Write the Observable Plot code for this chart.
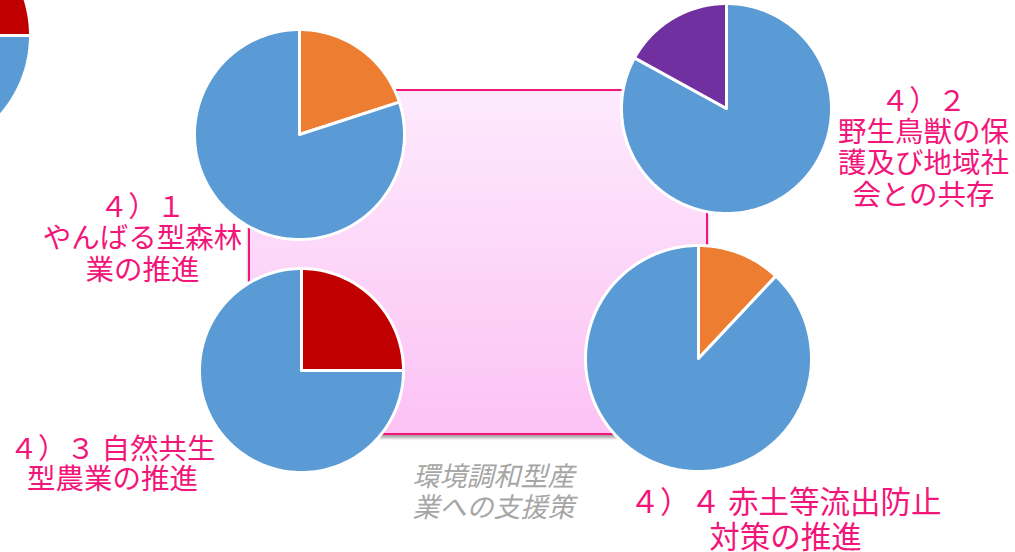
<!DOCTYPE html>
<html>
<head>
<meta charset="utf-8">
<script src="https://cdn.jsdelivr.net/npm/d3@7"></script>
<script src="https://cdn.jsdelivr.net/npm/@observablehq/plot@0.6"></script>
<style>
  html, body { margin: 0; padding: 0; background: #ffffff; overflow: hidden; }
  #chart svg { display: block; }
</style>
</head>
<body>
<div id="chart"></div>
<script>
// ---------- data ----------
const pieIds = ["４）１", "４）２", "４）３", "４）４", "前項"];
const highlightShare = [0.20, 0.17, 0.25, 0.12, 0.25];
const restShare = [0.80, 0.83, 0.75, 0.88, 0.75];
const highlightFirst = [true, false, true, true, true];

const labelTexts = [
  "４）１\nやんばる型森林\n業の推進",
  "４）２\n野生鳥獣の保\n護及び地域社\n会との共存",
  "４）３ 自然共生\n型農業の推進",
  "４）４ 赤土等流出防止\n対策の推進"
];
const centerCaption = "環境調和型産\n業への支援策";

// ---------- layout & style ----------
const W = 1015, H = 552;
const pieLayout = [
  {cx: 299, cy: 134, r: 105},
  {cx: 726, cy: 108, r: 105},
  {cx: 301, cy: 370, r: 102},
  {cx: 698, cy: 358, r: 113},
  {cx: -90, cy: 35, r: 120}
];
const highlightColors = ["#ed7d31", "#7030a0", "#c00000", "#ed7d31", "#c00000"];
const restColor = "#5b9bd5";
const labelLayout = [
  {x: 142, y: 238, size: 28.5, lh: 1.09},
  {x: 923, y: 147, size: 28.5, lh: 1.1},
  {x: 112, y: 464, size: 28.5, lh: 1.03},
  {x: 785, y: 519, size: 30.5, lh: 1.13}
];
const captionLayout = {x: 493, y: 491, size: 27, lh: 1.15};
const box = {x1: 249, x2: 707, y1: 90, y2: 434};
const pink = "#f2167a";

// ---------- slice geometry from shares ----------
const slicePoints = [];
pieIds.forEach((id, i) => {
  const L = pieLayout[i];
  const parts = highlightFirst[i]
    ? [{v: highlightShare[i], c: highlightColors[i]}, {v: restShare[i], c: restColor}]
    : [{v: restShare[i], c: restColor}, {v: highlightShare[i], c: highlightColors[i]}];
  const total = d3.sum(parts, p => p.v);
  let a = 0;
  parts.forEach((p, j) => {
    const a0 = a, a1 = a + p.v / total * 2 * Math.PI;
    a = a1;
    const key = id + "-" + j;
    slicePoints.push({key, x: L.cx, y: L.cy, color: p.c});
    const n = Math.max(2, Math.ceil((a1 - a0) / (Math.PI / 180)));
    for (let k = 0; k <= n; k++) {
      const t = a0 + (a1 - a0) * k / n;
      slicePoints.push({key, x: L.cx + L.r * Math.sin(t), y: L.cy - L.r * Math.cos(t), color: p.c});
    }
    slicePoints.push({key, x: L.cx, y: L.cy, color: p.c});
  });
});

const labels = labelTexts.map((t, i) => ({text: t, ...labelLayout[i]}));

const plot = Plot.plot({
  width: W,
  height: H,
  margin: 0,
  x: {domain: [0, W], range: [0, W], axis: null},
  y: {domain: [0, H], range: [0, H], axis: null},
  style: {background: "white", overflow: "hidden"},
  marks: [
    Plot.rect([box], {x1: "x1", x2: "x2", y1: "y1", y2: "y2", fill: "#fcd6f8", stroke: pink, strokeWidth: 2, className: "bgbox"}),
    Plot.line(slicePoints, {x: "x", y: "y", z: "key", fill: "color", stroke: "white", strokeWidth: 3, strokeLinejoin: "miter", curve: "linear"}),
    ...labels.map(l => Plot.text([l], {
      x: "x", y: "y", text: "text", fill: pink, fontSize: l.size, lineHeight: l.lh,
      textAnchor: "middle", lineAnchor: "middle", fontFamily: "Noto Sans CJK JP"
    })),
    Plot.text([{text: centerCaption, ...captionLayout}], {
      x: "x", y: "y", text: "text", fill: "#a6a6a6", fontSize: captionLayout.size,
      lineHeight: captionLayout.lh, textAnchor: "middle", lineAnchor: "middle",
      fontFamily: "Noto Sans CJK JP", fontStyle: "italic"
    })
  ]
});

const defs = d3.create("svg:defs");
const grad = defs.append("linearGradient").attr("id", "bgGrad").attr("x1", 0).attr("y1", 0).attr("x2", 0).attr("y2", 1);
grad.append("stop").attr("offset", "0%").attr("stop-color", "#fdeafd");
grad.append("stop").attr("offset", "100%").attr("stop-color", "#fcc2f4");
const f = defs.append("filter").attr("id", "boxShadow").attr("x", "-5%").attr("y", "-5%").attr("width", "110%").attr("height", "115%");
f.append("feDropShadow").attr("dx", 0).attr("dy", 3).attr("stdDeviation", 1.5).attr("flood-color", "#000").attr("flood-opacity", 0.35);
plot.insertBefore(defs.node(), plot.firstChild);
d3.select(plot).selectAll(".bgbox rect, g.bgbox rect, rect.bgbox").attr("fill", "url(#bgGrad)");
d3.select(plot).selectAll(".bgbox").attr("filter", "url(#boxShadow)");

document.getElementById("chart").appendChild(plot);
</script>
</body>
</html>
